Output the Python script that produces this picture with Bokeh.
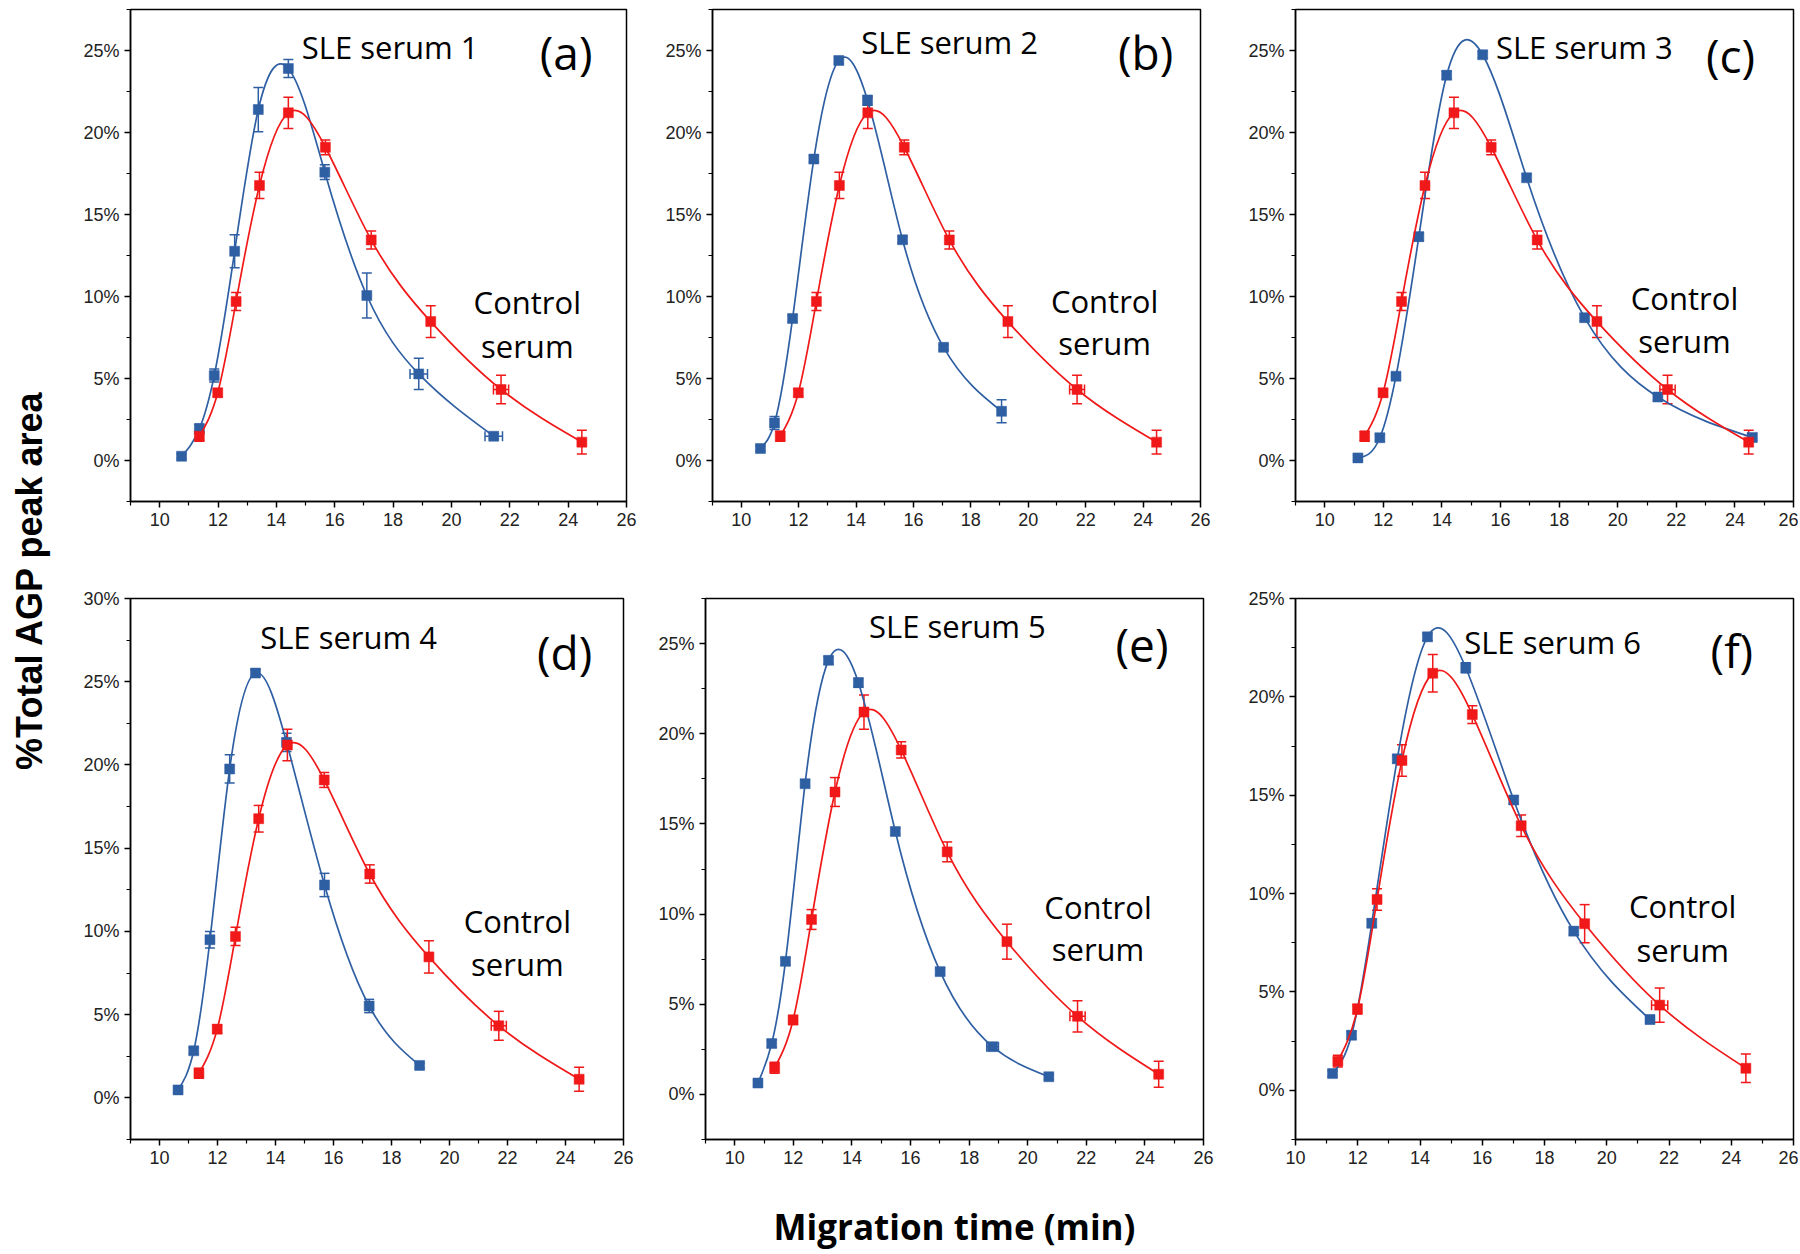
import numpy as np
from math import pi
from bokeh.plotting import figure
from bokeh.models import (Range1d, FixedTicker, PrintfTickFormatter, Whisker, TeeHead,
                          ColumnDataSource, Label)
from bokeh.layouts import row, column
from bokeh.embed import file_html
from bokeh.resources import INLINE

# ---------------- data ----------------
control_x = [11.36, 11.99, 12.62, 13.42, 14.41, 15.68, 17.25, 19.29, 21.70, 24.47]
control_y = [1.48, 4.13, 9.70, 16.77, 21.2, 19.1, 13.45, 8.47, 4.33, 1.12]
control_yerr = [0.3, 0.25, 0.55, 0.8, 0.95, 0.45, 0.55, 0.97, 0.87, 0.72]
control_xerr = [0, 0, 0, 0, 0, 0, 0, 0, 0.26, 0]

sle1_x = [10.75, 11.36, 11.87, 12.57, 13.38, 14.41, 15.66, 17.10, 18.88, 21.45]
sle1_y = [0.26, 1.93, 5.18, 12.76, 21.4, 23.9, 17.58, 10.06, 5.28, 1.48]
sle1_yerr = [0.15, 0.3, 0.4, 1.0, 1.35, 0.55, 0.45, 1.37, 0.95, 0.15]
sle1_xerr = [0, 0, 0, 0, 0, 0, 0, 0, 0.3, 0.3]

sle2_x = [10.67, 11.16, 11.79, 12.53, 13.40, 14.40, 15.62, 17.05, 19.07]
sle2_y = [0.73, 2.29, 8.66, 18.38, 24.39, 21.96, 13.46, 6.9, 3.0]
sle2_yerr = [0.15, 0.4, 0.2, 0.2, 0.2, 0.3, 0.2, 0.15, 0.7]
sle2_xerr = [0, 0, 0, 0, 0, 0, 0, 0, 0]

sle3_x = [11.13, 11.88, 12.43, 13.21, 14.16, 15.39, 16.89, 18.87, 21.37, 24.59]
sle3_y = [0.16, 1.39, 5.14, 13.65, 23.49, 24.74, 17.24, 8.71, 3.87, 1.41]
sle3_yerr = [0.15, 0.2, 0.2, 0.25, 0.25, 0.2, 0.2, 0.2, 0.2, 0.2]
sle3_xerr = [0, 0, 0, 0, 0, 0, 0, 0, 0, 0.15]

sle4_x = [10.64, 11.18, 11.74, 12.42, 13.31, 14.38, 15.69, 17.23, 18.97]
sle4_y = [0.48, 2.83, 9.5, 19.76, 25.52, 21.36, 12.79, 5.52, 1.95]
sle4_yerr = [0.15, 0.2, 0.5, 0.85, 0.2, 0.55, 0.7, 0.4, 0.15]
sle4_xerr = [0, 0, 0, 0, 0, 0, 0, 0, 0]

sle5_x = [10.79, 11.26, 11.73, 12.40, 13.20, 14.22, 15.48, 17.01, 18.80, 20.72]
sle5_y = [0.63, 2.82, 7.38, 17.23, 24.07, 22.83, 14.58, 6.81, 2.65, 0.98]
sle5_yerr = [0.15, 0.2, 0.2, 0.2, 0.2, 0.25, 0.2, 0.2, 0.2, 0.15]
sle5_xerr = [0, 0, 0, 0, 0, 0, 0, 0, 0.2, 0]

sle6_x = [11.19, 11.80, 12.45, 13.27, 14.24, 15.47, 17.01, 18.94, 21.39]
sle6_y = [0.85, 2.80, 8.49, 16.85, 23.05, 21.48, 14.76, 8.09, 3.60]
sle6_yerr = [0.15, 0.2, 0.2, 0.2, 0.2, 0.25, 0.2, 0.2, 0.2]
sle6_xerr = [0, 0, 0, 0, 0, 0, 0, 0, 0]

panel_titles = ["SLE serum 1", "SLE serum 2", "SLE serum 3",
                "SLE serum 4", "SLE serum 5", "SLE serum 6"]
panel_tags = ["(a)", "(b)", "(c)", "(d)", "(e)", "(f)"]
x_ticks = [10, 12, 14, 16, 18, 20, 22, 24, 26]

BLUE = "#2f5fa3"
RED = "#f01818"


def spline_bezier(x, y):
    """Natural cubic spline through the points, expressed as Bezier segments."""
    x = np.asarray(x, float)
    y = np.asarray(y, float)
    n = len(x)
    h = np.diff(x)
    A = np.zeros((n, n))
    b = np.zeros(n)
    A[0, 0] = 1.0
    A[-1, -1] = 1.0
    for i in range(1, n - 1):
        A[i, i - 1] = h[i - 1]
        A[i, i] = 2 * (h[i - 1] + h[i])
        A[i, i + 1] = h[i]
        b[i] = 6 * ((y[i + 1] - y[i]) / h[i] - (y[i] - y[i - 1]) / h[i - 1])
    M = np.linalg.solve(A, b)
    m = np.zeros(n)
    for i in range(n - 1):
        m[i] = (y[i + 1] - y[i]) / h[i] - h[i] * (2 * M[i] + M[i + 1]) / 6
    m[-1] = (y[-1] - y[-2]) / h[-1] + h[-1] * (M[-2] + 2 * M[-1]) / 6
    return dict(x0=x[:-1], y0=y[:-1], x1=x[1:], y1=y[1:],
                cx0=x[:-1] + h / 3, cy0=y[:-1] + m[:-1] * h / 3,
                cx1=x[1:] - h / 3, cy1=y[1:] - m[1:] * h / 3)


def add_series(p, xs, ys, yerr, xerr, color):
    p.bezier(source=ColumnDataSource(spline_bezier(xs, ys)), x0="x0", y0="y0", x1="x1", y1="y1",
             cx0="cx0", cy0="cy0", cx1="cx1", cy1="cy1", line_color=color, line_width=1.7)
    ysrc = ColumnDataSource(dict(x=xs, lo=[a - e for a, e in zip(ys, yerr)],
                                 hi=[a + e for a, e in zip(ys, yerr)]))
    p.add_layout(Whisker(source=ysrc, base="x", lower="lo", upper="hi", dimension="height",
                         line_color=color, line_width=1.5,
                         upper_head=TeeHead(size=10, line_color=color, line_width=1.5),
                         lower_head=TeeHead(size=10, line_color=color, line_width=1.5)))
    xe = [(a, b, e) for a, b, e in zip(xs, ys, xerr) if e > 0]
    if xe:
        xsrc = ColumnDataSource(dict(y=[t[1] for t in xe], lo=[t[0] - t[2] for t in xe],
                                     hi=[t[0] + t[2] for t in xe]))
        p.add_layout(Whisker(source=xsrc, base="y", lower="lo", upper="hi", dimension="width",
                             line_color=color, line_width=1.5,
                             upper_head=TeeHead(size=10, line_color=color, line_width=1.5),
                             lower_head=TeeHead(size=10, line_color=color, line_width=1.5)))
    p.scatter(xs, ys, marker="square", size=10, fill_color=color, line_color=color, line_width=0.5)


def make_panel(spec, sle, labels):
    (w, h, bl, br, bt, bb, xr, yr, ytop) = spec
    p = figure(width=w, height=h, x_range=Range1d(*xr), y_range=Range1d(*yr),
               output_backend="svg", toolbar_location=None,
               min_border_left=bl, min_border_right=br, min_border_top=bt, min_border_bottom=bb)
    p.grid.visible = False
    p.outline_line_color = "black"
    p.outline_line_width = 1.5
    p.background_fill_color = "white"
    xt = [t for t in x_ticks if t >= xr[0]]
    p.xaxis.ticker = FixedTicker(ticks=xt, minor_ticks=[t - 1 for t in x_ticks if t - 1 >= xr[0]])
    yt = list(range(0, ytop + 1, 5))
    p.yaxis.ticker = FixedTicker(ticks=yt, minor_ticks=[t - 2.5 for t in yt] + [ytop + 2.5])
    p.yaxis.formatter = PrintfTickFormatter(format="%d%%")
    for ax in (p.xaxis[0], p.yaxis[0]):
        ax.axis_line_color = "black"
        ax.axis_line_width = 1.5
        ax.major_tick_line_color = "black"
        ax.minor_tick_line_color = "black"
        ax.major_tick_line_width = 1.5
        ax.minor_tick_line_width = 1.2
        ax.major_tick_in = 0
        ax.major_tick_out = 6
        ax.minor_tick_in = 0
        ax.minor_tick_out = 4
        ax.major_label_text_font = "Liberation Sans"
        ax.major_label_text_font_size = "18px"
        ax.major_label_text_color = "#222222"
    p.yaxis.major_label_standoff = 5
    p.xaxis.major_label_standoff = 5
    sx, sy, syerr, sxerr = sle
    add_series(p, sx, sy, syerr, sxerr, BLUE)
    add_series(p, control_x, control_y, control_yerr, control_xerr, RED)
    (title, tag, tpos, gpos, cpos, spos) = labels
    for txt, pos, size in ((title, tpos, "31px"), (tag, gpos, "46px"),
                           ("Control", cpos, "31px"), ("serum", spos, "31px")):
        p.add_layout(Label(x=pos[0], y=pos[1], text=txt, text_font="Open Sans",
                           text_font_size=size, text_color="black",
                           text_align="center", text_baseline="middle"))
    return p


# (width, height, border l, r, t, b, x range, y range, top tick)
specs = [
    (585, 560, 60, 29, 9, 59, (9, 26), (-2.5, 27.5), 25),
    (585, 560, 57, 40, 9, 59, (9, 26), (-2.5, 27.5), 25),
    (558, 560, 55, 5, 9, 59, (9, 26), (-2.5, 27.5), 25),
    (585, 692, 60, 32, 38, 107, (9, 26), (-2.5, 30), 30),
    (585, 692, 48, 37, 38, 107, (9, 26), (-2.5, 27.5), 25),
    (558, 692, 55, 5, 38, 107, (10, 26), (-2.5, 25), 25),
]
series = [(sle1_x, sle1_y, sle1_yerr, sle1_xerr), (sle2_x, sle2_y, sle2_yerr, sle2_xerr),
          (sle3_x, sle3_y, sle3_yerr, sle3_xerr), (sle4_x, sle4_y, sle4_yerr, sle4_xerr),
          (sle5_x, sle5_y, sle5_yerr, sle5_xerr), (sle6_x, sle6_y, sle6_yerr, sle6_xerr)]
label_pos = [
    ((17.9, 25.2), (23.93, 24.9), (22.6, 9.68), (22.6, 6.99)),
    ((17.26, 25.5), (24.09, 24.93), (22.66, 9.72), (22.66, 7.15)),
    ((18.86, 25.2), (23.85, 24.7), (22.28, 9.9), (22.28, 7.3)),
    ((16.52, 27.67), (23.97, 26.78), (22.34, 10.62), (22.34, 8.06)),
    ((17.6, 25.96), (23.9, 24.98), (22.4, 10.39), (22.4, 8.08)),
    ((18.26, 22.8), (24.02, 22.4), (22.44, 9.35), (22.44, 7.14)),
]

panels = []
for i in range(6):
    lp = label_pos[i]
    panels.append(make_panel(specs[i], series[i],
                             (panel_titles[i], panel_tags[i], lp[0], lp[1], lp[2], lp[3])))

# x-axis title under the middle bottom panel
pe = panels[4]
pe.xaxis.axis_label = "Migration time (min)"
pe.xaxis.axis_label_text_font = "Open Sans"
pe.xaxis.axis_label_text_font_style = "bold"
pe.xaxis.axis_label_text_font_size = "35px"
pe.xaxis.axis_label_text_color = "black"
pe.xaxis.axis_label_standoff = 36

# y-axis title figure
yfig = figure(width=70, height=1252, x_range=Range1d(0, 1), y_range=Range1d(0, 1),
              output_backend="svg", toolbar_location=None,
              x_axis_location=None, y_axis_location=None,
              min_border_left=0, min_border_right=0, min_border_top=0, min_border_bottom=0)
yfig.grid.visible = False
yfig.outline_line_color = None
yfig.add_layout(Label(x=0.42, y=0.537, text="%Total AGP peak area", angle=pi / 2,
                      text_font="Liberation Sans", text_font_style="bold",
                      text_font_size="36px", text_color="black",
                      text_align="center", text_baseline="middle"))

layout = row(yfig, column(row(panels[0], panels[1], panels[2]),
                          row(panels[3], panels[4], panels[5])))

open("out.html", "w").write(file_html(layout, INLINE))
